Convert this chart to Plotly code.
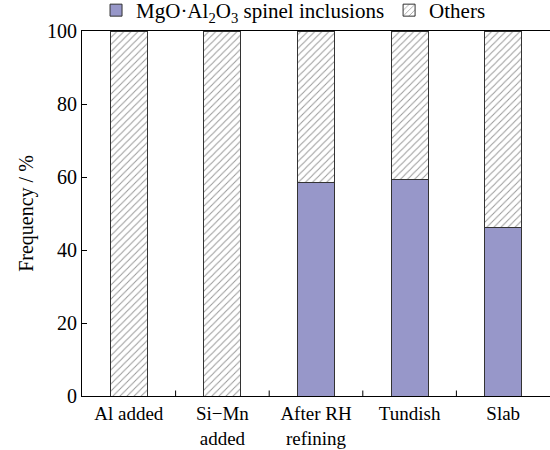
import plotly.graph_objects as go

categories = ["Al added", "Si\u2212Mn<br>added", "After RH<br>refining", "Tundish", "Slab"]
spinel = [0, 0, 58.6, 59.2, 46.2]
others = [100 - v for v in spinel]
positions = list(range(len(categories)))
boundaries = [p + 0.5 for p in positions[:-1]]

FONT = "Liberation Serif"
font = dict(family=FONT, size=20, color="black")

fig = go.Figure()
fig.add_trace(go.Bar(
    x=positions, y=spinel, name="MgO\u00b7Al<sub>2</sub>O<sub>3</sub> spinel inclusions",
    marker=dict(color="#9797C9", line=dict(color="#333333", width=1)),
))
fig.add_trace(go.Bar(
    x=positions, y=others, name="Others",
    marker=dict(color="white", line=dict(color="#333333", width=1),
                pattern=dict(shape="/", fgcolor="#333333", bgcolor="white", size=5, solidity=0.2)),
))
# inward tick marks at category boundaries on the x axis
fig.add_trace(go.Scatter(
    x=boundaries, y=[0] * len(boundaries), mode="markers",
    marker=dict(size=1, color="rgba(0,0,0,0)"),
    error_y=dict(type="data", array=[1.5] * len(boundaries), arrayminus=[0] * len(boundaries),
                 symmetric=False, width=0, thickness=1, color="black"),
    showlegend=False, hoverinfo="skip",
))

fig.update_layout(
    barmode="stack", bargap=0.605,
    width=550, height=450,
    margin=dict(l=82, r=0, t=31, b=54, autoexpand=False),
    paper_bgcolor="white", plot_bgcolor="white",
    font=font,
    showlegend=True,
    legend=dict(orientation="h", x=0.03, y=1.0, xanchor="left", yanchor="bottom",
                font=dict(family=FONT, size=21, color="black"),
                itemwidth=30, traceorder="normal", borderwidth=0,
                bgcolor="rgba(0,0,0,0)"),
)
fig.update_xaxes(
    range=[-0.5, 4.5], tickmode="array", tickvals=positions, ticktext=categories,
    showline=True, linecolor="black", linewidth=1, mirror=True,
    ticks="", tickfont=dict(family=FONT, size=19, color="black"), showgrid=False,
    zeroline=False,
)
fig.update_yaxes(
    range=[0, 100], dtick=20, showline=True, linecolor="black", linewidth=1, mirror=False,
    ticks="inside", ticklen=5, tickcolor="black", showgrid=False, zeroline=False,
    tickfont=font, title=dict(text="Frequency / %", font=font, standoff=8),
)
fig.write_html("out.html")
